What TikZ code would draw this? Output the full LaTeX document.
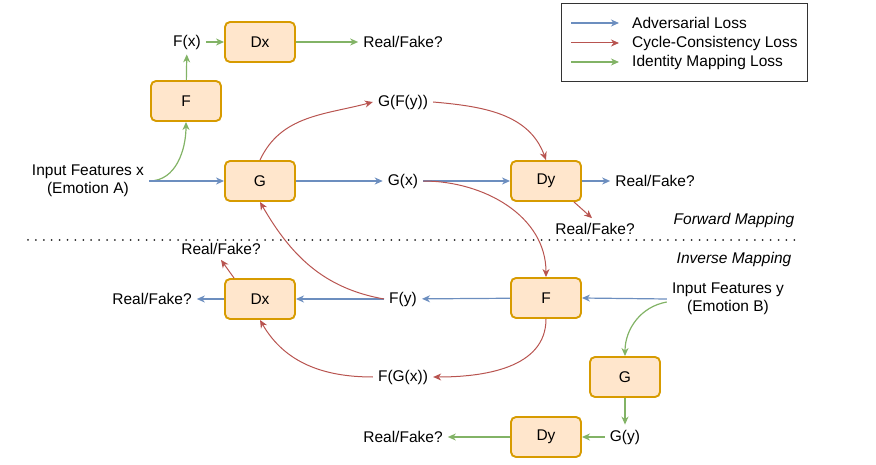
\documentclass[tikz,border=0pt]{standalone}
\usepackage{fontspec}
\setmainfont{Liberation Sans}
\usetikzlibrary{arrows.meta}
\definecolor{advblue}{HTML}{6C8EBF}
\definecolor{cycred}{HTML}{B85450}
\definecolor{idgreen}{HTML}{82B366}
\definecolor{boxfill}{HTML}{FFE6CC}
\definecolor{boxline}{HTML}{D79B00}

\begin{document}
\begin{tikzpicture}[x=1pt, y=1pt,
    font=\fontsize{15.5}{18.5}\selectfont,
    network/.style ={rectangle, draw=boxline, fill=boxfill, line width=1.9pt, rounded corners=5pt,
                     minimum width=70pt, minimum height=40pt, inner sep=0pt},
    txt/.style ={inner sep=5pt, align=center},
    adv/.style ={draw=advblue, line width=1.2pt, -{Stealth[length=8pt, width=7pt, inset=2.5pt]}},
    cyc/.style ={draw=cycred, line width=1pt, -{Stealth[length=8pt, width=7pt, inset=2.5pt]}},
    idm/.style ={draw=idgreen, line width=1.2pt, -{Stealth[length=8pt, width=7pt, inset=2.5pt]}}]
   \useasboundingbox (0,0) rectangle (876,-465);

   \draw[line width=1pt, black!80] (561,-4) rectangle (807,-82);
   \coordinate (a1) at (571,-23);
   \coordinate (b1) at (619,-23);
   \coordinate (a2) at (571,-43);
   \coordinate (b2) at (619,-43);
   \coordinate (a3) at (571,-62);
   \coordinate (b3) at (619,-62);
   \node[anchor=west, inner sep=0pt] (L1) at (632,-23) {Adversarial Loss};
   \node[anchor=west, inner sep=0pt] (L2) at (632,-43) {Cycle-Consistency Loss};
   \node[anchor=west, inner sep=0pt] (L3) at (632,-62) {Identity Mapping Loss};
   \draw[adv] (a1) to (b1);
   \draw[cyc] (a2) to (b2);
   \draw[idm] (a3) to (b3);

   \node[txt] (A) at (187,-42) {F(x)};
   \node[network] (B) at (260,-42) {Dx};
   \node[txt] (C) at (403,-42) {Real/Fake?};
   \node[network] (D) at (186,-101) {F};
   \node[txt] (E) at (88,-181) {Input Features x\\(Emotion A)};
   \node[network] (F) at (260,-181) {G};
   \node[txt] (G) at (403,-181) {G(x)};
   \node[txt] (H) at (403,-102) {G(F(y))};
   \node[network] (I) at (546,-181) {Dy};
   \node[txt] (J) at (655,-181) {Real/Fake?};
   \node[txt] (K) at (595,-229) {Real/Fake?};
   \node[txt] (Fw) at (734,-220) {\itshape Forward Mapping};

   \draw[line width=2pt, black!85, line cap=round, dash pattern=on 0pt off 7.9pt] (28,-240) -- (795,-240);

   \node[txt] (Iv) at (734,-259) {\itshape Inverse Mapping};
   \node[network] (M) at (546,-298) {F};
   \node[txt] (N) at (728,-299) {Input Features y\\(Emotion B)};
   \node[txt] (O) at (403,-299) {F(y)};
   \node[network] (P) at (260,-299) {Dx};
   \node[txt] (Q) at (152,-299) {Real/Fake?};
   \node[txt] (R) at (221,-249) {Real/Fake?};
   \node[txt] (S) at (403,-377) {F(G(x))};
   \node[network] (T) at (625,-377) {G};
   \node[txt] (U) at (625,-437) {G(y)};
   \node[network] (V) at (546,-437) {Dy};
   \node[txt] (W) at (403,-437) {Real/Fake?};

   \draw[idm] (E.east) to[out=0, in=-90] (D.south);
   \draw[idm] (D) to (A);
   \draw[idm] (A) to (B);
   \draw[idm] (B) to (C);
   \draw[adv] (E.east) to (F.west);
   \draw[adv] (F) to (G);
   \draw[adv] (G) to (I);
   \draw[adv] (I) to (J);
   \draw[cyc] (F.north) to[out=65, in=195] (H.west);
   \draw[cyc] (H.east) to[out=-5, in=110] (I.north);
   \draw[cyc] ([xshift=-8pt]I.south east) to ([xshift=-3pt]K.north);
   \draw[cyc] (G.east) to[out=0, in=90] (M.north);

   \draw[adv] (N.west) to (M.east);
   \draw[adv] (M) to (O);
   \draw[adv] (O) to (P);
   \draw[adv] (P) to (Q);
   \draw[cyc] (O.west) to[out=170, in=-60] (F.south);
   \draw[cyc] ([xshift=10pt]P.north west) to (R.south);
   \draw[cyc] (M.south) to[out=-90, in=0] (S.east);
   \draw[cyc] (S.west) to[out=180, in=-60] (P.south);
   \draw[idm] ([yshift=-3pt]N.west) to[out=190, in=90] (T.north);
   \draw[idm] (T) to (U);
   \draw[idm] (U) to (V);
   \draw[idm] (V) to (W);
 \end{tikzpicture}
\end{document}
